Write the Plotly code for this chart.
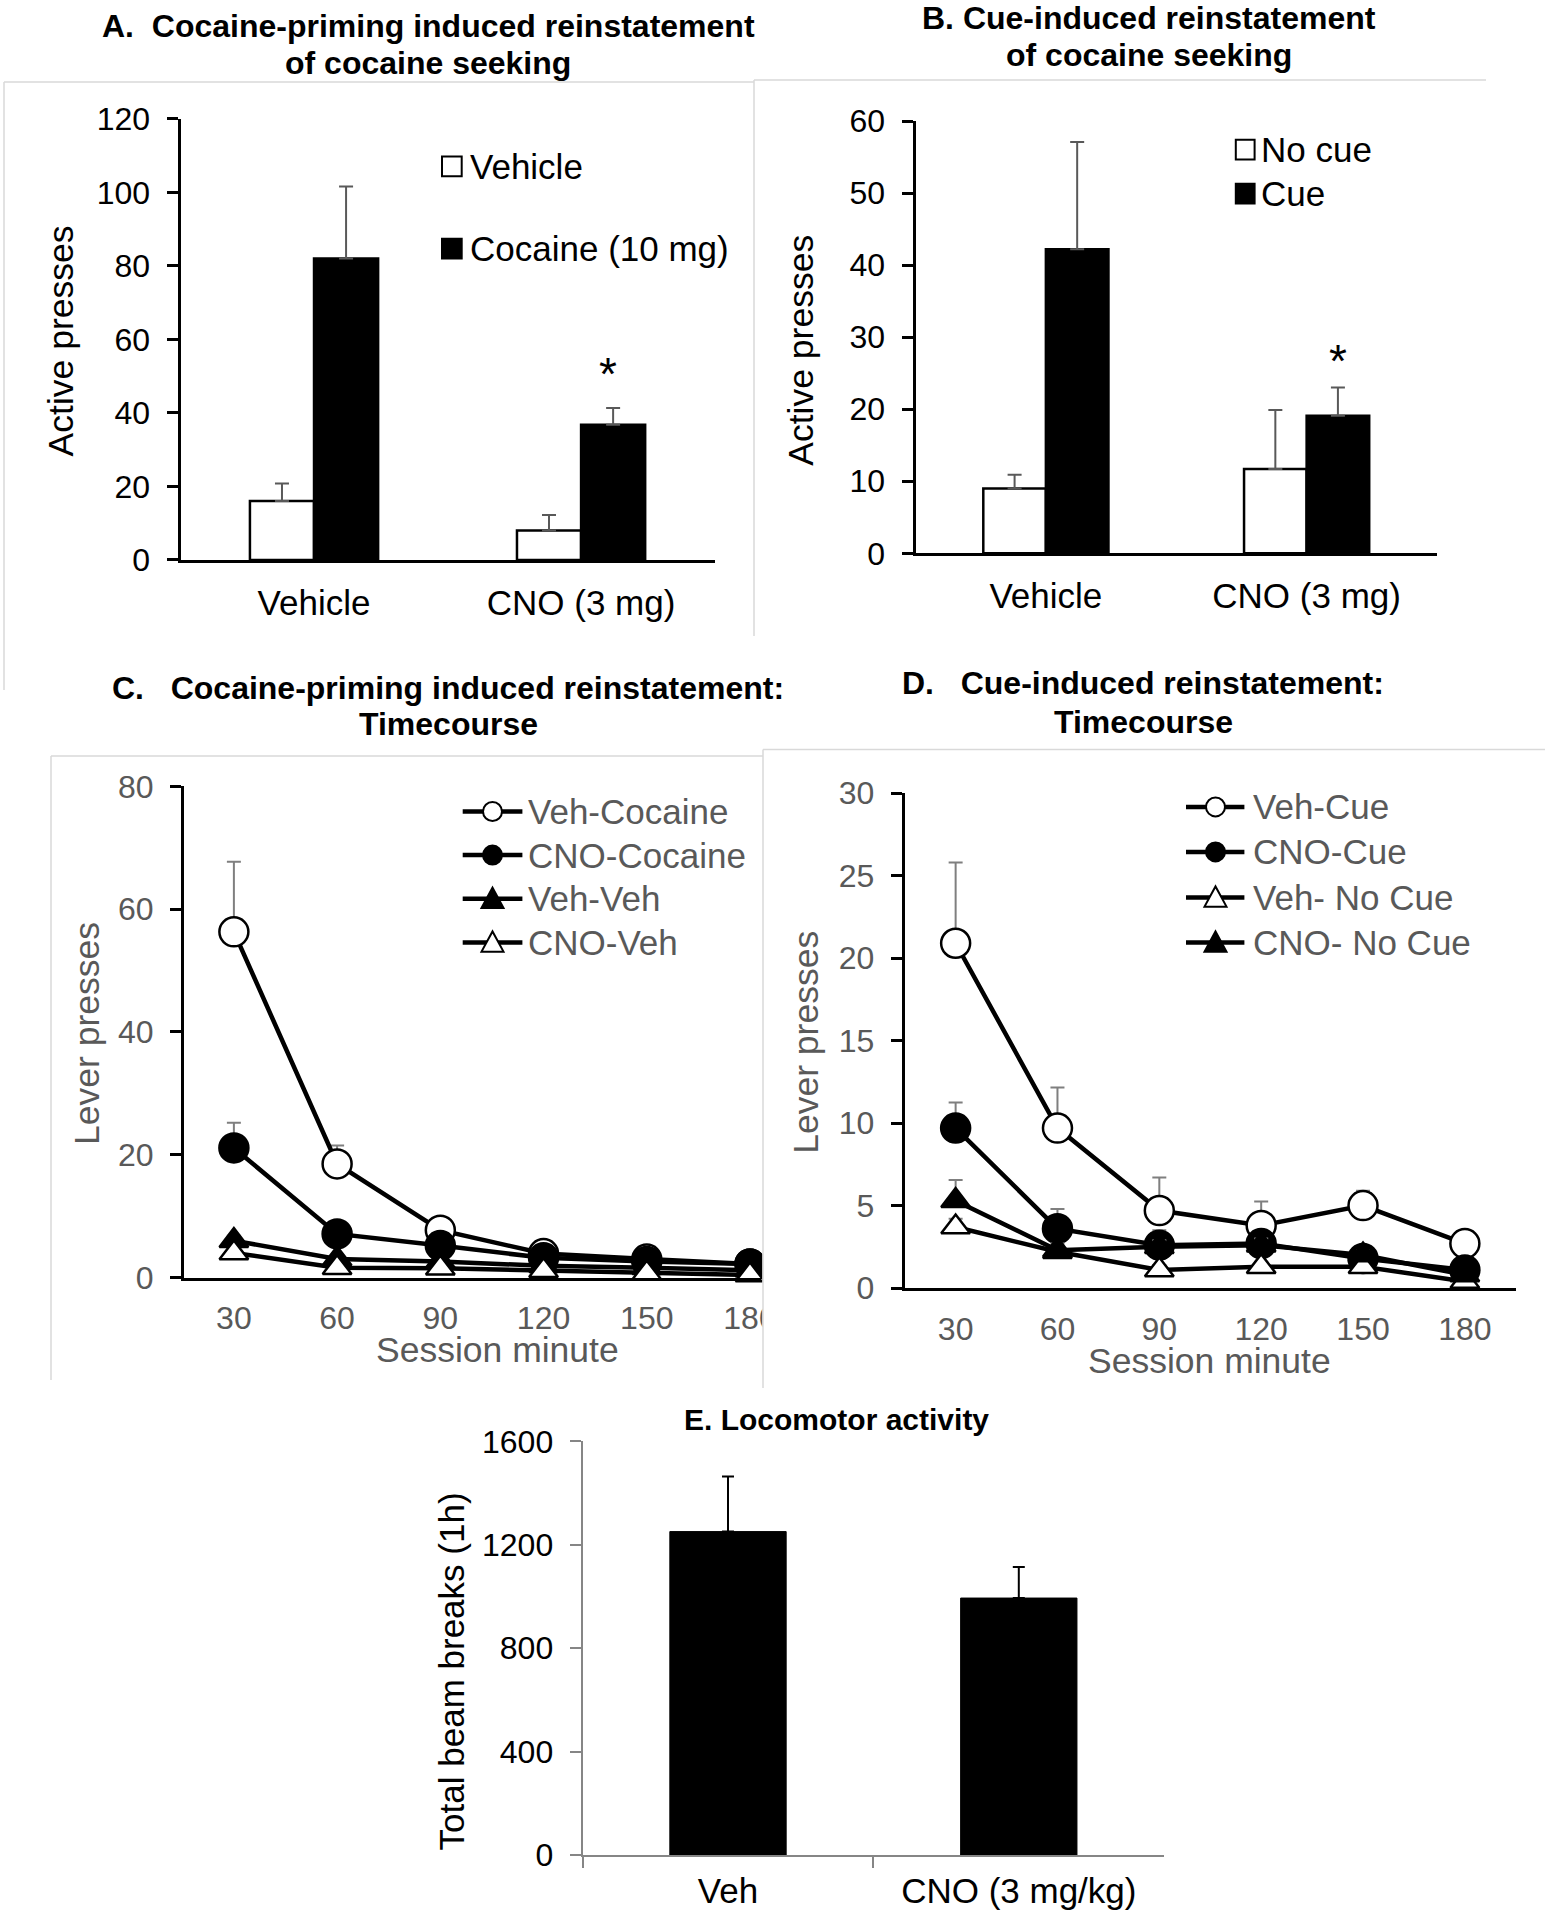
import plotly.graph_objects as go

W, H = 1545, 1920
FONT = "Liberation Sans, Arial, sans-serif"
GRAY_TXT = "#595959"

def px(x):
    return x / W

def py(y):
    return 1 - y / H

# ---------------- data ----------------
groups_ab = ["Vehicle", "CNO (3 mg)"]
a_vehicle = [16.0, 8.0]
a_vehicle_err = [4.8, 4.2]
a_cocaine = [82.0, 36.8]
a_cocaine_err = [19.6, 4.5]

b_nocue = [9.0, 11.7]
b_nocue_err = [1.9, 8.2]
b_cue = [42.2, 19.1]
b_cue_err = [14.9, 3.9]

minutes = [30, 60, 90, 120, 150, 180]
c_veh_cocaine = [56.3, 18.5, 7.7, 3.9, 3.0, 2.2]
c_veh_cocaine_err = [11.4, 3.0, 1.0, 0.8, 0.6, 0.5]
c_cno_cocaine = [21.1, 7.1, 5.2, 3.2, 2.6, 2.2]
c_cno_cocaine_err = [4.1, 1.0, 0.8, 0.6, 0.5, 0.4]
c_veh_veh = [6.0, 3.0, 2.6, 1.9, 1.6, 1.2]
c_veh_veh_err = [0.8, 0.5, 0.4, 0.3, 0.3, 0.2]
c_cno_veh = [4.0, 1.6, 1.5, 1.1, 0.7, 0.4]
c_cno_veh_err = [0.6, 0.4, 0.4, 0.3, 0.2, 0.2]

d_veh_cue = [20.9, 9.7, 4.7, 3.8, 5.0, 2.7]
d_veh_cue_err = [4.9, 2.45, 2.0, 1.45, 0.9, 0.7]
d_cno_cue = [9.7, 3.6, 2.6, 2.7, 1.8, 1.1]
d_cno_cue_err = [1.55, 1.2, 0.9, 0.6, 0.5, 0.4]
d_veh_nocue = [3.7, 2.2, 1.1, 1.3, 1.3, 0.4]
d_veh_nocue_err = [0.5, 0.3, 0.3, 0.3, 0.3, 0.2]
d_cno_nocue = [5.3, 2.3, 2.5, 2.6, 2.0, 0.8]
d_cno_nocue_err = [1.25, 0.4, 0.4, 0.4, 0.3, 0.2]

e_groups = ["Veh", "CNO (3 mg/kg)"]
e_beam = [1251, 994]
e_beam_err = [213, 120]

fig = go.Figure()

# ---------------- bars A / B ----------------
def bar(x, y, err, fill, xa, ya, errcolor="#595959"):
    return go.Bar(
        x=x, y=y, xaxis=xa, yaxis=ya, showlegend=False, hoverinfo="skip",
        marker=dict(color=fill, line=dict(color="black", width=2.5)),
        error_y=dict(type="data", symmetric=False, array=err, arrayminus=[0] * len(err),
                     color=errcolor, thickness=2, width=7),
    )

fig.add_trace(bar(groups_ab, a_vehicle, a_vehicle_err, "white", "x", "y"))
fig.add_trace(bar(groups_ab, a_cocaine, a_cocaine_err, "black", "x", "y"))
fig.add_trace(bar(groups_ab, b_nocue, b_nocue_err, "white", "x2", "y2"))
fig.add_trace(bar(groups_ab, b_cue, b_cue_err, "black", "x2", "y2"))

# ---------------- lines C / D ----------------
def line(y, err, symbol, fill, xa, ya):
    size = 29 if symbol == "circle" else 25
    return go.Scatter(
        x=minutes, y=y, xaxis=xa, yaxis=ya, mode="lines+markers", showlegend=False,
        hoverinfo="skip", cliponaxis=False,
        line=dict(color="black", width=4.5),
        marker=dict(symbol=symbol, size=size, color=fill, line=dict(color="black", width=2.5)),
        error_y=dict(type="data", symmetric=False, array=err, arrayminus=[0] * len(err),
                     color="#7f7f7f", thickness=2, width=7),
    )

fig.add_trace(line(c_veh_cocaine, c_veh_cocaine_err, "circle", "white", "x3", "y3"))
fig.add_trace(line(c_cno_cocaine, c_cno_cocaine_err, "circle", "black", "x3", "y3"))
fig.add_trace(line(c_veh_veh, c_veh_veh_err, "triangle-up", "black", "x3", "y3"))
fig.add_trace(line(c_cno_veh, c_cno_veh_err, "triangle-up", "white", "x3", "y3"))

fig.add_trace(line(d_veh_cue, d_veh_cue_err, "circle", "white", "x4", "y4"))
fig.add_trace(line(d_cno_cue, d_cno_cue_err, "circle", "black", "x4", "y4"))
fig.add_trace(line(d_veh_nocue, d_veh_nocue_err, "triangle-up", "white", "x4", "y4"))
fig.add_trace(line(d_cno_nocue, d_cno_nocue_err, "triangle-up", "black", "x4", "y4"))

# ---------------- bar E ----------------
fig.add_trace(go.Bar(
    x=e_groups, y=e_beam, xaxis="x5", yaxis="y5", width=0.4, showlegend=False, hoverinfo="skip",
    marker=dict(color="black", line=dict(color="black", width=1)),
    error_y=dict(type="data", symmetric=False, array=e_beam_err, arrayminus=[0, 0],
                 color="black", thickness=2, width=6),
))

# ---------------- axes ----------------
TICK = 32

def yax(dom, rng, dtick, color_txt, line_color="black", lw=3, size=TICK, standoff=10):
    return dict(domain=dom, range=rng, dtick=dtick, showgrid=False, zeroline=False,
                showline=True, linecolor=line_color, linewidth=lw, automargin=False,
                ticks="outside", ticklen=11, tickwidth=lw - 0.5, tickcolor=line_color,
                tickfont=dict(family=FONT, size=size, color=color_txt),
                ticklabelstandoff=standoff, fixedrange=True)

def xcat(dom, color_txt, line_color="black", lw=3, size=35, standoff=10, ticks="", anchor="y"):
    return dict(domain=dom, type="category", range=[-0.5, 1.5], showgrid=False, zeroline=False,
                showline=True, linecolor=line_color, linewidth=lw, ticks=ticks, automargin=False,
                tickfont=dict(family=FONT, size=size, color=color_txt),
                ticklabelstandoff=standoff, anchor=anchor, fixedrange=True)

def xnum(dom, rng, color_txt, anchor):
    return dict(domain=dom, range=rng, tickvals=minutes, showgrid=False, zeroline=False,
                showline=True, linecolor="black", linewidth=3, ticks="", automargin=False,
                tickfont=dict(family=FONT, size=TICK, color=color_txt),
                ticklabelstandoff=10, anchor=anchor, fixedrange=True)

fig.update_layout(
    xaxis=xcat([px(180.5), px(714.6)], "black", anchor="y"),
    yaxis=dict(yax([py(559.9), py(118.8)], [0, 120], 20, "black"), anchor="x"),
    xaxis2=xcat([px(915.5), px(1437)], "black", anchor="y2"),
    yaxis2=dict(yax([py(553.3), py(121)], [0, 60], 10, "black"), anchor="x2"),
    xaxis3=xnum([px(184), px(761)], [15.5, 183.2], GRAY_TXT, "y3"),
    yaxis3=dict(yax([py(1277.5), py(786.3)], [0, 80], 20, GRAY_TXT), anchor="x3"),
    xaxis4=xnum([px(904.7), px(1515.8)], [15, 195], GRAY_TXT, "y4"),
    yaxis4=dict(yax([py(1288.1), py(793.1)], [0, 30], 5, GRAY_TXT), anchor="x4"),
    xaxis5=dict(xcat([px(582.6), px(1164.2)], "black", line_color="#868686", lw=2,
                     size=35, standoff=4, ticks="outside", anchor="y5"),
                tickson="boundaries", ticklen=11, tickwidth=2, tickcolor="#868686"),
    yaxis5=dict(yax([py(1855.2), py(1441.3)], [0, 1600], 400, "black",
                    line_color="#868686", lw=2, size=TICK), anchor="x5"),
)

# ---------------- annotations ----------------
ann = []

def text(x, y, t, size=35, color="black", bold=False, xanchor="center", angle=0):
    ann.append(dict(
        x=px(x), y=py(y), xref="paper", yref="paper", showarrow=False,
        text=f"<b>{t}</b>" if bold else t, textangle=angle,
        xanchor=xanchor, yanchor="middle",
        font=dict(family=FONT, size=size, color=color),
    ))

NB = "\u00a0"
TS = 32
# titles
text(428, 25.5, f"A.{NB}{NB}Cocaine-priming induced reinstatement", TS, bold=True)
text(428, 63, "of cocaine seeking", TS, bold=True)
text(1149, 17.6, "B. Cue-induced reinstatement", TS, bold=True)
text(1149, 55, "of cocaine seeking", TS, bold=True)
text(448, 687.5, f"C.{NB}{NB}{NB}Cocaine-priming induced reinstatement:", TS, bold=True)
text(448, 724.3, "Timecourse", TS, bold=True)
text(1142.5, 683, f"D.{NB}{NB}{NB}Cue-induced reinstatement:", TS, bold=True)
text(1143, 722, "Timecourse", TS, bold=True)
text(836.6, 1419.6, "E. Locomotor activity", 30, bold=True)

# axis titles
text(61.4, 341, "Active presses", 35.5, angle=-90)
text(800.7, 350, "Active presses", 35.5, angle=-90)
text(87, 1034, "Lever presses", 35.5, color=GRAY_TXT, angle=-90)
text(805.8, 1042, "Lever presses", 35.5, color=GRAY_TXT, angle=-90)
text(497.5, 1350, "Session minute", 35.5, color=GRAY_TXT)
text(1209, 1361, "Session minute", 35.5, color=GRAY_TXT)
text(451.4, 1671, "Total beam breaks (1h)", 35, angle=-90)

# significance marks
text(607.6, 374, "*", 46)
text(1338.2, 361, "*", 46)

shapes = []

def seg(x0, y0, x1, y1, color="#d9d9d9", width=1.5):
    shapes.append(dict(type="line", xref="paper", yref="paper",
                       x0=px(x0), y0=py(y0), x1=px(x1), y1=py(y1),
                       line=dict(color=color, width=width)))

def rect(x0, y0, x1, y1, fill, lc="black", lw=2):
    shapes.append(dict(type="rect", xref="paper", yref="paper",
                       x0=px(x0), y0=py(y1), x1=px(x1), y1=py(y0),
                       fillcolor=fill, line=dict(color=lc, width=lw)))

def circle(cx, cy, r, fill):
    shapes.append(dict(type="circle", xref="paper", yref="paper",
                       x0=px(cx - r), x1=px(cx + r), y0=py(cy + r), y1=py(cy - r),
                       fillcolor=fill, line=dict(color="black", width=2)))

def tri(cx, cy, s, fill):
    pts = [(cx - s / 2, cy + s * 0.42), (cx + s / 2, cy + s * 0.42), (cx, cy - s * 0.5)]
    path = "M" + " L".join(f"{px(a)},{py(b)}" for a, b in pts) + " Z"
    shapes.append(dict(type="path", xref="paper", yref="paper", path=path,
                       fillcolor=fill, line=dict(color="black", width=2)))

# cover overflow of panel C beyond its frame
rect(762.5, 1245, 802, 1350, "white", lc="white", lw=0)

# panel frames
seg(4, 82, 754, 82)
seg(4, 82, 4, 690)
seg(754, 80, 1486, 80)
seg(754, 80, 754, 636)
seg(51, 756, 763, 756)
seg(51, 756, 51, 1380)
seg(763, 749.5, 1545, 749.5)
seg(763, 749.5, 763, 1388)

# legend A
rect(442, 156.5, 461.7, 176.3, "white")
text(468, 166.4, "Vehicle", xanchor="left")
rect(442, 238.8, 461.7, 258.6, "black")
text(468, 248.7, "Cocaine (10 mg)", xanchor="left")

# legend B
rect(1235.8, 139.7, 1254.6, 159.5, "white")
text(1258.6, 149.6, "No cue", xanchor="left")
rect(1235.8, 183.8, 1254.6, 203.6, "black")
text(1258.6, 193.7, "Cue", xanchor="left")

# legend C
legend_c = [("Veh-Cocaine", "circle", "white"), ("CNO-Cocaine", "circle", "black"),
            ("Veh-Veh", "tri", "black"), ("CNO-Veh", "tri", "white")]
for (lab, sym, fill), yy in zip(legend_c, [811.5, 855.1, 898.7, 942.4]):
    seg(462.7, yy, 522.4, yy, color="black", width=4.5)
    if sym == "circle":
        circle(492.5, yy, 9.5, fill)
    else:
        tri(492.5, yy, 22, fill)
    text(526, yy, lab, color=GRAY_TXT, xanchor="left")

# legend D
legend_d = [("Veh-Cue", "circle", "white"), ("CNO-Cue", "circle", "black"),
            ("Veh- No Cue", "tri", "white"), ("CNO- No Cue", "tri", "black")]
for (lab, sym, fill), yy in zip(legend_d, [806.9, 851.9, 897.4, 942.4]):
    seg(1186, yy, 1244.4, yy, color="black", width=4.5)
    if sym == "circle":
        circle(1215.5, yy, 9.5, fill)
    else:
        tri(1215.5, yy, 22, fill)
    text(1250.5, yy, lab, color=GRAY_TXT, xanchor="left")

fig.update_layout(
    width=W, height=H, autosize=False,
    margin=dict(l=0, r=0, t=0, b=0, pad=0, autoexpand=False),
    paper_bgcolor="white", plot_bgcolor="white",
    barmode="group", bargap=0.52, bargroupgap=0,
    annotations=ann, shapes=shapes, showlegend=False,
    font=dict(family=FONT),
)

fig.write_html("out.html", include_plotlyjs=True, full_html=True,
               config={"displayModeBar": False},
               post_script="document.body.style.margin='0';document.body.style.overflow='hidden';")
